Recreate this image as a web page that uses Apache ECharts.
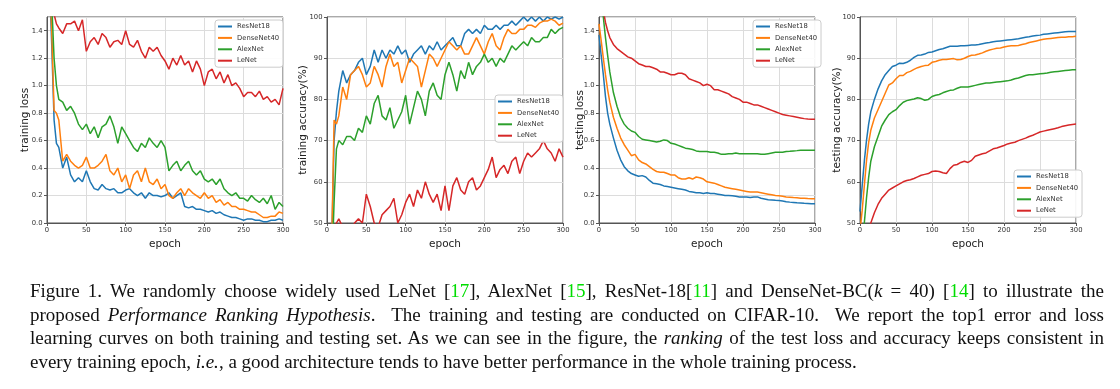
<!DOCTYPE html>
<html><head><meta charset="utf-8">
<script src="https://cdn.jsdelivr.net/npm/echarts@6/dist/echarts.min.js"></script>
<style>
html,body{margin:0;padding:0;background:#fff;}
#chart{position:absolute;left:0;top:0;width:1120px;height:389px;}
#cap{position:absolute;left:30px;top:279px;width:1074px;font-family:'Liberation Serif','Times New Roman',serif;font-size:19px;line-height:23.6px;color:#111;}
#cap .j{text-align:justify;text-align-last:justify;}
#cap .g{color:#00dd00;}
</style></head>
<body>
<div id="chart"></div>
<div id="cap">
<div class="j">Figure 1. We randomly choose widely used LeNet [<span class="g">17</span>], AlexNet [<span class="g">15</span>], ResNet-18[<span class="g">11</span>] and DenseNet-BC(<i>k</i>&nbsp;=&nbsp;40) [<span class="g">14</span>] to illustrate the</div>
<div class="j">proposed <i>Performance Ranking Hypothesis</i>.&nbsp; The training and testing are conducted on CIFAR-10.&nbsp; We report the top1 error and loss</div>
<div class="j">learning curves on both training and testing set. As we can see in the figure, the <i>ranking</i> of the test loss and accuracy keeps consistent in</div>
<div>every training epoch, <i>i.e.</i>, a good architecture tends to have better performance in the whole training process.</div>
</div>
<script>
const epochs = [0,3,6,9,12,15,20,25,30,35,40,45,50,55,60,65,70,75,80,85,90,95,100,105,110,115,120,125,130,135,140,145,150,155,160,165,170,175,180,185,190,195,200,205,210,215,220,225,230,235,240,245,250,255,260,265,270,275,280,285,290,295,300];
const seriesNames = ['ResNet18','DenseNet40','AlexNet','LeNet'];
const seriesColors = ['#1f77b4','#ff7f0e','#2ca02c','#d62728'];
const xTicks = [0,50,100,150,200,250,300];

// training loss
const trainLossResNet18 = [2.2,1.8,1.3,0.75,0.58,0.55, 0.40,0.48,0.35,0.30,0.33,0.30,0.38,0.30,0.25,0.24, 0.28,0.25,0.24,0.25,0.22,0.22,0.24,0.25,0.22,0.20, 0.22,0.18,0.22,0.20,0.20,0.19,0.20,0.22,0.18,0.20, 0.22,0.12,0.11,0.12,0.10,0.10,0.09,0.08,0.09,0.07, 0.08,0.06,0.05,0.04,0.04,0.03,0.02,0.03,0.03,0.02, 0.02,0.01,0.01,0.02,0.02,0.03,0.02];
const trainLossDenseNet40 = [2.2,1.8,1.4,0.82,0.80,0.75, 0.45,0.50,0.45,0.42,0.40,0.42,0.48,0.40,0.40,0.42, 0.45,0.50,0.38,0.35,0.40,0.30,0.35,0.25,0.35,0.38, 0.30,0.40,0.30,0.28,0.32,0.25,0.28,0.20,0.18,0.22, 0.25,0.20,0.25,0.22,0.20,0.18,0.22,0.18,0.20,0.15, 0.17,0.13,0.15,0.12,0.12,0.10,0.10,0.09,0.08,0.08, 0.06,0.04,0.04,0.05,0.05,0.08,0.07];
const trainLossAlexNet = [2.3,2.0,1.6,1.2,1.0,0.90, 0.88,0.82,0.85,0.80,0.72,0.68,0.72,0.65,0.70,0.62, 0.70,0.72,0.78,0.70,0.58,0.70,0.65,0.60,0.55,0.52, 0.58,0.55,0.62,0.58,0.55,0.60,0.55,0.38,0.42,0.45, 0.38,0.42,0.45,0.38,0.35,0.38,0.32,0.30,0.32,0.28, 0.32,0.25,0.22,0.20,0.22,0.18,0.18,0.16,0.20,0.17, 0.15,0.18,0.14,0.20,0.10,0.15,0.12];
const trainLossLeNet = [2.3,2.0,1.7,1.52,1.45,1.42, 1.38,1.45,1.45,1.47,1.40,1.48,1.25,1.32,1.35,1.30, 1.38,1.35,1.28,1.32,1.33,1.30,1.40,1.30,1.28,1.33, 1.25,1.20,1.28,1.25,1.28,1.22,1.18,1.12,1.20,1.15, 1.22,1.15,1.18,1.10,1.18,1.12,1.00,1.10,1.12,1.05, 1.10,1.02,1.08,1.00,1.02,0.98,0.92,0.95,0.95,0.92, 0.96,0.90,0.92,0.88,0.90,0.86,0.98];

// training accuracy
const trainAccResNet18 = [30,35,45,70,77,82, 87,84,86,87,89,90,86,88,92,89, 92,90,92,91,93,91,92,89,91,92, 93,91,93,92,94,92,93,94,95,93, 93,96,97,96,97,96,98,97,97,98, 97,98,98,99,98,99,100,99,100,99, 100,99,100,99.5,100,99.5,100];
const trainAccDenseNet40 = [30,35,45,75,74,76, 83,80,86,87,88,86,83,84,88,86, 83,88,91,88,89,84,87,90,89,88, 83,87,91,90,88,90,92,94,93,92, 93,91,91,93,95,93,91,94,96,93, 92,95,97,96,96,97,97,98,98,97.5, 98.5,99,99,99.5,99,98,98.5];
const trainAccAlexNet = [25,30,38,55,68,70, 69,71,71,70,73,72,76,74,79,81, 76,75,78,73,75,77,81,74,78,82, 80,76,82,84,81,80,86,89,86,82, 87,85,89,86,88,89,91,89,90,88, 90,89,91,93,92,93,94,93,95,94, 94,95,95,97,96,97,97.5];
const trainAccLeNet = [40,42,45,48,50,51, 49,48,48,50,51,50,57,54,50,49, 52,53,54,56,50,52,55,57,54,58, 56,60,57,55,57,53,59,53,59,61, 58,57,60,61,58,59,61,63,66,61, 63,64,62,65,66,62,65,67,66,67, 68,70,68,67,65,68,66];

// testing loss
const testLossResNet18 = [1.37,1.22,1.08,0.92,0.80,0.72, 0.62,0.53,0.46,0.41,0.38,0.36,0.35,0.34,0.345,0.335, 0.31,0.29,0.285,0.28,0.27,0.265,0.26,0.255,0.25,0.245, 0.24,0.23,0.225,0.22,0.22,0.215,0.22,0.215,0.215,0.21, 0.205,0.2,0.2,0.198,0.195,0.19,0.19,0.19,0.185,0.19, 0.19,0.18,0.175,0.17,0.168,0.165,0.163,0.16,0.155,0.152, 0.15,0.147,0.145,0.143,0.142,0.14,0.14];
const testLossDenseNet40 = [1.45,1.33,1.2,1.08,0.97,0.88, 0.77,0.69,0.62,0.57,0.53,0.49,0.50,0.46,0.44,0.43, 0.41,0.39,0.375,0.37,0.37,0.36,0.35,0.35,0.33,0.32, 0.32,0.33,0.32,0.335,0.33,0.32,0.30,0.295,0.29,0.28, 0.27,0.26,0.255,0.25,0.245,0.24,0.235,0.23,0.225,0.225, 0.225,0.22,0.215,0.21,0.205,0.2,0.198,0.195,0.19,0.188, 0.185,0.183,0.18,0.18,0.178,0.177,0.177];
const testLossAlexNet = [1.65,1.58,1.5,1.35,1.22,1.1, 0.95,0.85,0.77,0.72,0.69,0.67,0.66,0.63,0.61,0.605, 0.6,0.595,0.59,0.595,0.605,0.6,0.58,0.575,0.565,0.555, 0.545,0.54,0.535,0.525,0.52,0.52,0.52,0.515,0.515,0.51, 0.5,0.5,0.505,0.505,0.51,0.505,0.505,0.505,0.505,0.505, 0.505,0.5,0.5,0.505,0.51,0.515,0.515,0.515,0.52,0.522, 0.525,0.527,0.53,0.53,0.53,0.53,0.53];
const testLossLeNet = [1.75,1.65,1.55,1.46,1.4,1.35, 1.3,1.27,1.25,1.23,1.21,1.2,1.18,1.16,1.15,1.14, 1.14,1.13,1.12,1.1,1.1,1.09,1.08,1.08,1.09,1.09, 1.08,1.05,1.04,1.03,1.02,1.0,1.01,1.0,0.97,0.97, 0.96,0.95,0.94,0.92,0.91,0.9,0.88,0.88,0.87,0.86, 0.86,0.85,0.84,0.83,0.82,0.81,0.8,0.79,0.785,0.78, 0.775,0.77,0.765,0.76,0.757,0.755,0.755];

// testing accuracy
const testAccResNet18 = [52.8,59,65,70,74,77, 80,82.5,84.5,86,87,88,88.3,88.8,88.7,89, 89.5,90.2,90.7,90.8,91,91.4,91.5,91.8,92.1,92.3, 92.6,92.9,92.9,92.9,93,93,93.1,93.2,93.2,93.3, 93.5,93.7,93.8,94,94.1,94.2,94.3,94.4,94.5,94.6, 94.7,94.9,95.1,95.2,95.4,95.5,95.6,95.8,95.9,96, 96.1,96.2,96.3,96.4,96.5,96.5,96.5];
const testAccDenseNet40 = [48,53,59,65,69.5,72.5, 75.5,77.5,79.5,81.5,83.5,84,85,85.8,85.8,86.5, 86.8,87.3,87.7,88,88.2,88.3,89,89.2,89.5,89.7, 89.7,89.8,89.9,89.6,89.7,90,90.4,90.7,90.8,91, 91.3,91.7,92,92.2,92.4,92.5,92.7,92.9,93,93, 93.1,93.3,93.5,93.8,94,94.2,94.4,94.6,94.7,94.8, 94.9,95,95.1,95.1,95.2,95.2,95.3];
const testAccAlexNet = [42,45,50,56,61,65, 68.5,71,73.5,75,76.3,77,77.5,78.5,79.3,79.7, 79.9,80.1,80.4,80.2,79.8,80,80.7,81,81.2,81.6, 81.9,82.2,82.3,82.7,83,83,83,83.2,83.4,83.6, 83.8,84,84,84.1,84.2,84.3,84.4,84.5,84.7,85, 85.2,85.5,85.8,86,86,86.1,86.2,86.3,86.4,86.6, 86.7,86.8,86.9,87,87.1,87.2,87.2];
const testAccLeNet = [40,42,44,46,48.5,50, 52.5,54.5,56,57,58,58.5,59,59.5,60,60.3, 60.5,60.8,61.2,61.6,61.8,62,62.5,62.6,62.5,62.2, 62,63.2,64,64.2,64.7,65,64.7,65.2,66.2,66.5, 66.8,67,67.5,68,68.2,68.5,68.8,69.2,69.4,69.6, 70,70.3,70.6,71,71.3,71.7,72.1,72.3,72.5,72.7, 72.9,73.1,73.4,73.6,73.8,73.9,74];

const panelTitles = ['training loss','training accuracy(%)','testing loss','testing accuracy(%)'];
const panelData = [
  [trainLossResNet18,trainLossDenseNet40,trainLossAlexNet,trainLossLeNet],
  [trainAccResNet18,trainAccDenseNet40,trainAccAlexNet,trainAccLeNet],
  [testLossResNet18,testLossDenseNet40,testLossAlexNet,testLossLeNet],
  [testAccResNet18,testAccDenseNet40,testAccAlexNet,testAccLeNet]
];
const yRanges = [[0,1.5,0.2],[50,100,10],[0,1.5,0.2],[50,100,10]];

const gridBoxes = [
  {left:47,top:17,width:236,height:206},
  {left:327,top:17,width:236,height:206},
  {left:599,top:17,width:216,height:206},
  {left:860,top:17,width:216,height:206}
];
const nameGaps = [16,18,13,17];
const legendBoxes = [
  {left:215,top:20},
  {left:495,top:95},
  {left:753,top:20},
  {left:1014,top:170}
];

const font = 'DejaVu Sans';
const grid=[], xAxis=[], yAxis=[], series=[], legend=[];
gridBoxes.forEach((g,i)=>{
  grid.push(Object.assign({show:true,borderColor:'#555',borderWidth:1,backgroundColor:'#fff'},g));
  xAxis.push({type:'value',gridIndex:i,min:0,max:300,interval:50,
    name:'epoch',nameLocation:'middle',nameGap:16,nameMoveOverlap:false,
    nameTextStyle:{fontFamily:font,fontSize:10.5,color:'#222'},
    axisLine:{show:true,lineStyle:{color:'#555'}},
    axisTick:{show:true,length:3,lineStyle:{color:'#555'}},
    axisLabel:{fontFamily:font,fontSize:6.8,color:'#333',margin:4},
    splitLine:{show:true,lineStyle:{color:'#dcdcdc',width:1}}});
  const r=yRanges[i];
  const isLoss = r[1]<10;
  yAxis.push({type:'value',gridIndex:i,min:r[0],max:r[1],interval:r[2],
    name:panelTitles[i],nameLocation:'middle',nameGap:nameGaps[i],nameMoveOverlap:false,
    nameTextStyle:{fontFamily:font,fontSize:10.5,color:'#222'},
    axisLine:{show:true,lineStyle:{color:'#555'}},
    axisTick:{show:true,length:3,lineStyle:{color:'#555'}},
    axisLabel:{fontFamily:font,fontSize:6.8,color:'#333',margin:4.5,showMaxLabel:isLoss?false:true,
      formatter:v=>isLoss?v.toFixed(1):String(v)},
    splitLine:{show:true,lineStyle:{color:'#dcdcdc',width:1}}});
  seriesNames.forEach((n,k)=>{
    series.push({type:'line',name:n,xAxisIndex:i,yAxisIndex:i,showSymbol:false,symbol:'none',
      clip:true,animation:false,
      lineStyle:{color:seriesColors[k],width:1.5},itemStyle:{color:seriesColors[k]},
      data:epochs.map((e,j)=>[e,panelData[i][k][j]])});
  });
  legend.push({data:seriesNames,orient:'vertical',left:legendBoxes[i].left,top:legendBoxes[i].top,
    icon:'rect',itemWidth:14,itemHeight:2,itemGap:4.4,padding:[3,4,3,3],
    backgroundColor:'rgba(255,255,255,0.9)',borderColor:'#ccc',borderWidth:1,borderRadius:3,
    textStyle:{fontFamily:font,fontSize:6.8,color:'#333'},selectedMode:false});
});

const chart = echarts.init(document.getElementById('chart'),null,{renderer:'canvas'});
chart.setOption({animation:false,grid,xAxis,yAxis,series,legend});
</script>
</body></html>
